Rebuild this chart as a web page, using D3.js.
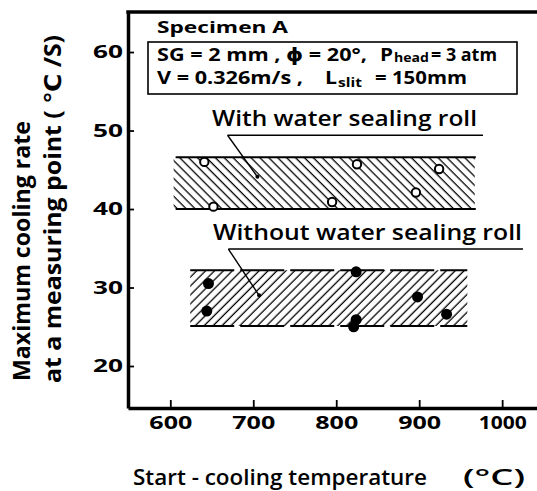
<!DOCTYPE html>
<html>
<head>
<meta charset="utf-8">
<script src="https://cdn.jsdelivr.net/npm/d3@7/dist/d3.min.js"></script>
<style>
  html, body { margin: 0; padding: 0; background: #fff; }
  svg { display: block; font-family: "Open Sans", "DejaVu Sans", sans-serif; }
</style>
</head>
<body>
<svg id="chart" width="537" height="491"></svg>
<script>
// Axis ticks
const xTicks = [600, 700, 800, 900, 1000];
const yTicks = [20, 30, 40, 50, 60];

// Measured points: start-cooling temperature (°C) and max cooling rate (°C/s)
const withRollTemp = [641, 652, 795, 825, 896, 924];
const withRollRate = [46.0, 40.3, 40.9, 45.7, 42.1, 45.1];
const withoutRollTemp = [646, 644, 824, 824, 821, 898, 933];
const withoutRollRate = [30.5, 27.0, 32.0, 25.9, 25.0, 28.8, 26.6];

// Scatter bands (rate range over temperature range)
const bandNames = ["With water sealing roll", "Without water sealing roll"];
const bandLow = [40.0, 25.1];
const bandHigh = [46.6, 32.2];
const bandFrom = [604, 624];
const bandTo = [967, 958];
// Leader lines: underline start and pointer tip, in data units
const leaderStartT = [669, 670];
const leaderStartR = [49.4, 34.9];
const leaderTipT = [705, 707];
const leaderTipR = [44.1, 29.0];

const svg = d3.select("#chart");
const x = d3.scaleLinear().domain([549, 1042]).range([128, 537]);
const y = d3.scaleLinear().domain([14.65, 65.1]).range([408, 12]);

// Hatch patterns
const defs = svg.append("defs");
function hatch(id, angle) {
  const p = defs.append("pattern")
    .attr("id", id)
    .attr("patternUnits", "userSpaceOnUse")
    .attr("width", 6.3).attr("height", 10)
    .attr("patternTransform", `rotate(${angle})`);
  p.append("line").attr("x1", 3).attr("y1", -2).attr("x2", 3).attr("y2", 12)
    .attr("stroke", "#000").attr("stroke-width", 1.3);
}
hatch("hatchBack", -45);
hatch("hatchFwd", 45);

// Bands
const bandG = svg.append("g");
bandNames.forEach((name, i) => {
  const x0 = x(bandFrom[i]), x1 = x(bandTo[i]);
  const yT = y(bandHigh[i]), yB = y(bandLow[i]);
  bandG.append("rect")
    .attr("x", x0).attr("y", yT).attr("width", x1 - x0).attr("height", yB - yT)
    .attr("fill", i === 0 ? "url(#hatchBack)" : "url(#hatchFwd)");
  const dash = i === 0 ? null : "44 6";
  [yT, yB].forEach(yy => {
    bandG.append("line")
      .attr("x1", x0 + (i === 0 ? 2 : 0)).attr("x2", x1 + (i === 0 ? 1 : 0))
      .attr("y1", yy).attr("y2", yy)
      .attr("stroke", "#000").attr("stroke-width", 2)
      .attr("stroke-dasharray", dash);
  });
});

// Band labels with leaders
const labelEnds = [477, 522];
const labelStarts = [212, 213];
const underlineEnds = [483, 523];
bandNames.forEach((name, i) => {
  const sx = x(leaderStartT[i]), sy = y(leaderStartR[i]);
  svg.append("text")
    .attr("x", labelStarts[i]).attr("y", sy - 9)
    .attr("font-size", 21).attr("font-weight", 600)
    .attr("textLength", labelEnds[i] - labelStarts[i])
    .attr("lengthAdjust", "spacingAndGlyphs")
    .text(name);
  svg.append("line")
    .attr("x1", sx).attr("x2", underlineEnds[i]).attr("y1", sy).attr("y2", sy)
    .attr("stroke", "#000").attr("stroke-width", 1.6);
  svg.append("line")
    .attr("x1", sx).attr("y1", sy)
    .attr("x2", x(leaderTipT[i])).attr("y2", y(leaderTipR[i]))
    .attr("stroke", "#000").attr("stroke-width", 1.4);
  svg.append("circle")
    .attr("cx", x(leaderTipT[i])).attr("cy", y(leaderTipR[i])).attr("r", 2)
    .attr("fill", "#000");
});

// Points
svg.append("g").selectAll("circle")
  .data(withRollTemp.map((t, i) => [t, withRollRate[i]]))
  .join("circle")
  .attr("cx", d => x(d[0])).attr("cy", d => y(d[1])).attr("r", 4.2)
  .attr("fill", "#fff").attr("stroke", "#000").attr("stroke-width", 2);
svg.append("g").selectAll("circle")
  .data(withoutRollTemp.map((t, i) => [t, withoutRollRate[i]]))
  .join("circle")
  .attr("cx", d => x(d[0])).attr("cy", d => y(d[1])).attr("r", 5.5)
  .attr("fill", "#000");

// Axes
const yAxis = svg.append("g").attr("transform", `translate(${x.range()[0]},0)`)
  .call(d3.axisLeft(y).tickValues(yTicks).tickFormat(d3.format("d"))
    .tickSize(-6).tickSizeOuter(0).tickPadding(5));
const xAxis = svg.append("g").attr("transform", `translate(0,${y.range()[0]})`)
  .call(d3.axisBottom(x).tickValues(xTicks).tickFormat(d3.format("d"))
    .tickSize(-8).tickSizeOuter(0).tickPadding(8));
[yAxis, xAxis].forEach(g => {
  g.select(".domain").attr("stroke", "#000").attr("stroke-width", 3.5);
  g.selectAll(".tick line").attr("stroke", "#000").attr("stroke-width", 1.8);
  g.selectAll(".tick text")
    .attr("fill", "#000")
    .attr("font-family", "'Open Sans', sans-serif")
    .attr("font-size", 18).attr("font-weight", 700)
    .attr("lengthAdjust", "spacingAndGlyphs");
});
yAxis.selectAll(".tick text").attr("textLength", 30);
xAxis.selectAll(".tick text").attr("textLength", d => d >= 1000 ? 48 : 43);

// Top frame line
svg.append("line")
  .attr("x1", x.range()[0] - 1.75).attr("x2", x.range()[1])
  .attr("y1", y.range()[1]).attr("y2", y.range()[1])
  .attr("stroke", "#000").attr("stroke-width", 3.5);

// Specimen annotation
function txt(str, x0, x1, yy, size) {
  return svg.append("text")
    .attr("x", x0).attr("y", yy)
    .attr("font-size", size).attr("font-weight", 700)
    .attr("textLength", x1 - x0).attr("lengthAdjust", "spacingAndGlyphs")
    .text(str);
}
txt("Specimen A", 157, 288, 33, 16);
svg.append("rect")
  .attr("x", 148).attr("y", 42).attr("width", 369).attr("height", 52)
  .attr("fill", "none").attr("stroke", "#000").attr("stroke-width", 1.6);
txt("SG = 2 mm ,  \u03D5 = 20°,", 157, 367, 61, 17);
txt("P", 380, 393, 61, 17);
txt("head", 394, 429, 62, 12);
txt("= 3 atm", 431, 497, 61, 17);
txt("V = 0.326m/s ,", 157, 303, 84, 17);
txt("L", 325, 337, 84, 17);
txt("slit", 338, 362, 87, 12);
txt("= 150mm", 375, 467, 84, 17);

// Axis titles
txt("Start - cooling  temperature", 133, 427, 485, 21).attr("font-weight", 600);
txt("(°C)", 463, 525, 485, 21).attr("font-weight", 600);

const yTitle = svg.append("g").attr("transform", "translate(0,381) rotate(-90)");
yTitle.append("text").attr("x", 0).attr("y", 30)
  .attr("font-size", 23).attr("font-weight", 700)
  .attr("textLength", 260).attr("lengthAdjust", "spacingAndGlyphs")
  .text("Maximum  cooling  rate");
yTitle.append("text").attr("x", -2).attr("y", 61)
  .attr("font-size", 23).attr("font-weight", 700)
  .attr("textLength", 348).attr("lengthAdjust", "spacingAndGlyphs")
  .text("at a measuring  point ( \u2103 /S)");
</script>
</body>
</html>
